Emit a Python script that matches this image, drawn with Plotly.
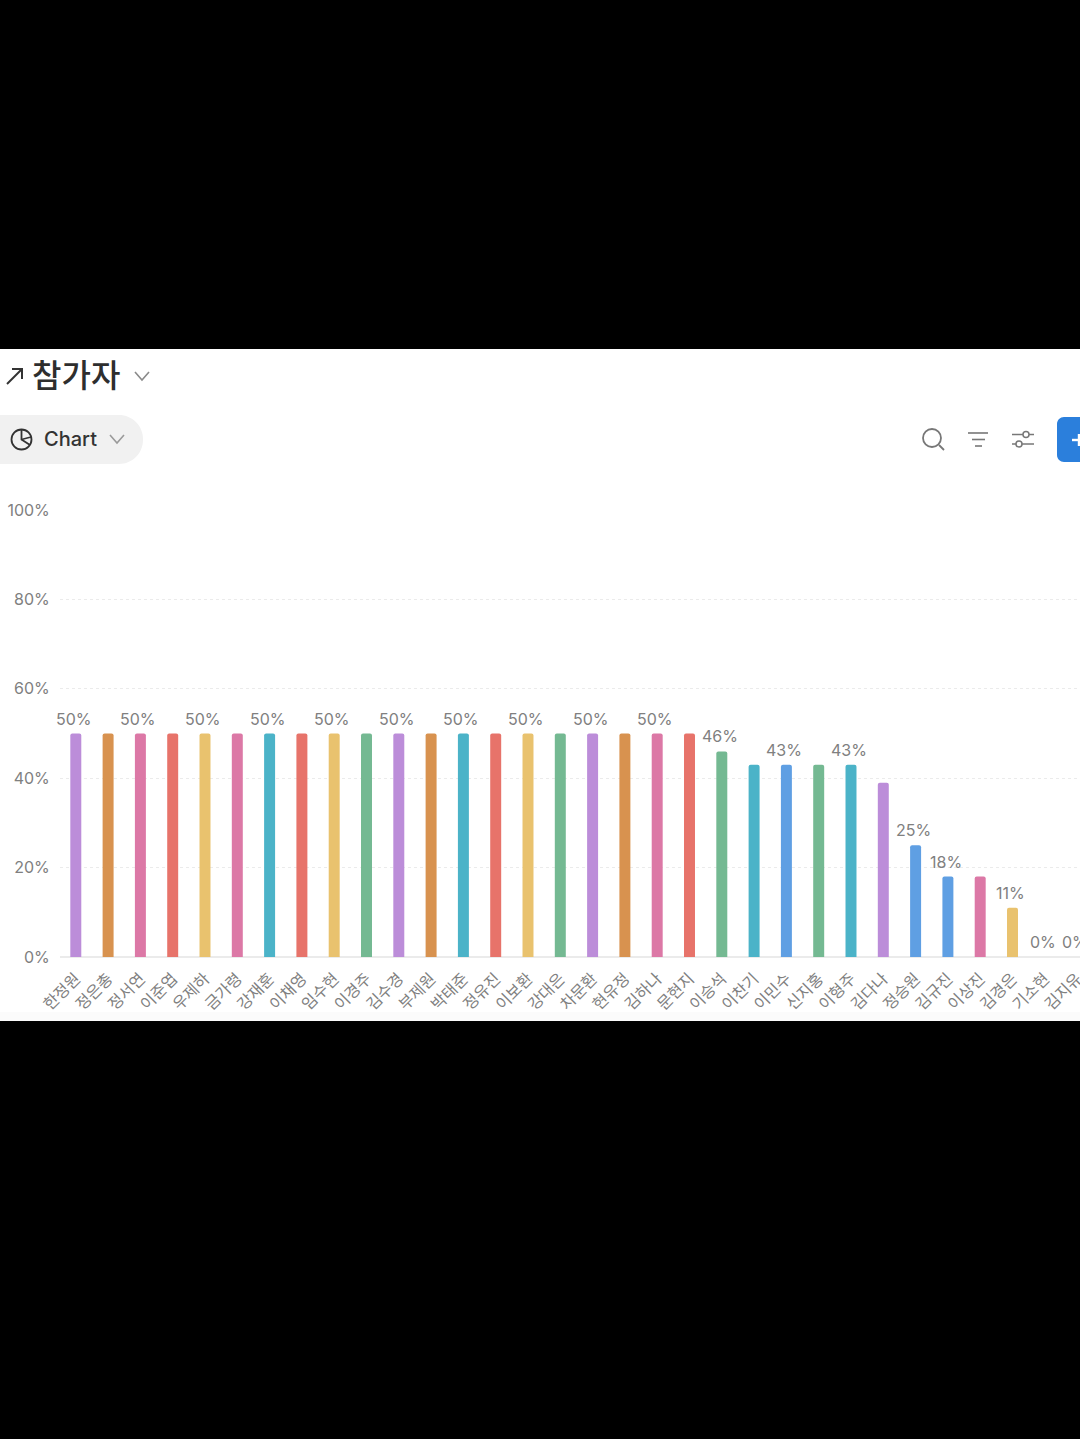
import plotly.graph_objects as go

# Participant completion rates
names = ["한정원", "정은총", "정서연", "이준엽", "우제하", "금가령", "강재훈", "이채영", "임수현", "이경주",
         "김수경", "부제원", "박태준", "정유진", "이보환", "강대은", "차문환", "현유정", "김하나", "문현지",
         "이승석", "이찬기", "이민수", "신지홍", "이형주", "김다나", "정승원", "김규진", "이상진", "김경은",
         "기소현", "김지유"]
rates = [50, 50, 50, 50, 50, 50, 50, 50, 50, 50,
         50, 50, 50, 50, 50, 50, 50, 50, 50, 50,
         46, 43, 43, 43, 43, 39, 25, 18, 18, 11,
         0, 0]
labelled = [0, 2, 4, 6, 8, 10, 12, 14, 16, 18, 20, 22, 24, 26, 27, 29, 30, 31]

PURPLE, ORANGE, PINK, RED = "#BC8DD9", "#D8924F", "#DC78A6", "#E7736A"
YELLOW, TEAL, GREEN, BLUE = "#E9C26E", "#4BB3C8", "#74B992", "#5F9FE3"
bar_colors = [PURPLE, ORANGE, PINK, RED, YELLOW, PINK, TEAL, RED, YELLOW, GREEN,
              PURPLE, ORANGE, TEAL, RED, YELLOW, GREEN, PURPLE, ORANGE, PINK, RED,
              GREEN, TEAL, BLUE, GREEN, TEAL, PURPLE, BLUE, BLUE, PINK, YELLOW,
              PURPLE, ORANGE]
y_ticks = [0, 20, 40, 60, 80, 100]

W, H = 1080, 1439
FONT = "Inter, 'Noto Sans CJK KR', sans-serif"
GREY = "#808080"


def px(x):
    return x / W


def py(y):
    return 1 - y / H


def rect(x0, y0, x1, y1, fill, layer="below"):
    return dict(type="rect", xref="paper", yref="paper", x0=px(x0), x1=px(x1), y0=py(y0), y1=py(y1),
                fillcolor=fill, line_width=0, layer=layer)


def stroke(points, color="#333333", width=1.6):
    d = "M" + " L".join(f"{px(x):.5f},{py(y):.5f}" for x, y in points)
    return dict(type="path", xref="paper", yref="paper", path=d, line=dict(color=color, width=width),
                fillcolor="rgba(0,0,0,0)")


def ring(cx, cy, r, color, width=1.6, fill="rgba(0,0,0,0)"):
    return dict(type="circle", xref="paper", yref="paper", x0=px(cx - r), x1=px(cx + r),
                y0=py(cy - r), y1=py(cy + r), line=dict(color=color, width=width), fillcolor=fill)


def rounded(x0, y0, x1, y1, r, fill):
    k = 0.55 * r
    X = px
    Y = py
    d = (f"M{X(x0 + r)},{Y(y0)} L{X(x1 - r)},{Y(y0)} "
         f"C{X(x1 - r + k)},{Y(y0)} {X(x1)},{Y(y0 + r - k)} {X(x1)},{Y(y0 + r)} "
         f"L{X(x1)},{Y(y1 - r)} C{X(x1)},{Y(y1 - r + k)} {X(x1 - r + k)},{Y(y1)} {X(x1 - r)},{Y(y1)} "
         f"L{X(x0 + r)},{Y(y1)} C{X(x0 + r - k)},{Y(y1)} {X(x0)},{Y(y1 - r + k)} {X(x0)},{Y(y1 - r)} "
         f"L{X(x0)},{Y(y0 + r)} C{X(x0)},{Y(y0 + r - k)} {X(x0 + r - k)},{Y(y0)} {X(x0 + r)},{Y(y0)} Z")
    return dict(type="path", xref="paper", yref="paper", path=d, fillcolor=fill, line_width=0, layer="below")


# Page chrome: white panel, view pill, toolbar
shapes = [
    rect(0, 349, W, 1021, "#FFFFFF"),
    rect(0, 1012, W, 1021, "#FBFBFB"),
    rounded(-30, 415, 143, 464, 24, "#F1F1F1"),
    rounded(1057, 417, 1110, 462, 7, "#2B7FDC"),
    stroke([(7, 384), (22, 369)], "#333333", 2),
    stroke([(12, 369), (22, 369), (22, 379)], "#333333", 2),
    stroke([(135, 372), (142, 380), (149, 372)], "#8A8A8A", 1.6),
    ring(21.5, 439.5, 10, "#333333", 1.8),
    stroke([(21.5, 429.5), (21.5, 439.5), (30, 445)], "#333333", 1.8),
    stroke([(21.5, 439.5), (31, 437)], "#333333", 1.4),
    stroke([(110, 435), (117, 443), (124, 435)], "#9A9A9A", 1.6),
    ring(932, 438, 9, "#777777", 1.8),
    stroke([(939, 445), (944, 450)], "#777777", 1.8),
    stroke([(968, 433), (988, 433)], "#777777", 1.6),
    stroke([(972, 439.5), (985, 439.5)], "#777777", 1.6),
    stroke([(975, 446), (982, 446)], "#777777", 1.6),
    stroke([(1012, 434.5), (1034, 434.5)], "#777777", 1.5),
    stroke([(1012, 444), (1034, 444)], "#777777", 1.5),
    ring(1026, 434.5, 3, "#777777", 1.5, "#FFFFFF"),
    ring(1019, 444, 3, "#777777", 1.5, "#FFFFFF"),
    stroke([(1072, 440), (1082, 440)], "#FFFFFF", 2.4),
    stroke([(1079, 434), (1079, 446)], "#FFFFFF", 2.4),
]

annotations = [
    dict(text="참가자", xref="paper", yref="paper", x=px(30), y=py(373), xanchor="left", yanchor="middle",
         showarrow=False, font=dict(family="'Noto Sans CJK KR'", size=32, color="#2E2E2E", weight=500)),
    dict(text="Chart", xref="paper", yref="paper", x=px(42), y=py(439), xanchor="left", yanchor="middle",
         showarrow=False, font=dict(family=FONT, size=20, color="#333333", weight=500)),
]
# Value captions sit just above the bars they describe
for i in labelled:
    annotations.append(dict(text=f"{rates[i]}%", x=i, y=rates[i], xref="x", yref="y",
                            xanchor="center", yanchor="bottom", yshift=3, xshift=-2, showarrow=False,
                            font=dict(family=FONT, size=16, color=GREY)))

fig = go.Figure(go.Bar(x=list(range(len(names))), y=rates, marker=dict(color=bar_colors, line_width=0,
                       cornerradius=2), width=0.34, hoverinfo="skip"))

left_px, spacing, first_px = 60, 32.3, 75.8
fig.update_layout(
    width=W, height=H, margin=dict(l=0, r=0, t=0, b=0), paper_bgcolor="#000000", plot_bgcolor="rgba(0,0,0,0)",
    showlegend=False, shapes=shapes, annotations=annotations,
    xaxis=dict(domain=[px(left_px), 1],
               range=[(left_px - first_px) / spacing, (W - first_px) / spacing],
               tickmode="array", tickvals=list(range(len(names))), ticktext=names, tickangle=-45,
               ticks="outside", ticklen=5, tickcolor="rgba(0,0,0,0)", ticklabeloverflow="allow",
               showgrid=False, showline=False, zeroline=False,
               tickfont=dict(family="'Noto Sans CJK KR'", size=16, color=GREY), automargin=False),
    yaxis=dict(domain=[py(957), py(510)], range=[0, 100], tickmode="array", tickvals=y_ticks,
               ticktext=[f"{v}%" for v in y_ticks], ticks="outside", ticklen=6, tickcolor="rgba(0,0,0,0)",
               showgrid=True, gridcolor="#EBEBEB", griddash="dot", gridwidth=1,
               zeroline=True, zerolinecolor="#EBEBEB", zerolinewidth=1.5, showline=False,
               tickfont=dict(family=FONT, size=16, color=GREY), automargin=False),
)

fig.write_html("out.html", config={"displayModeBar": False})
